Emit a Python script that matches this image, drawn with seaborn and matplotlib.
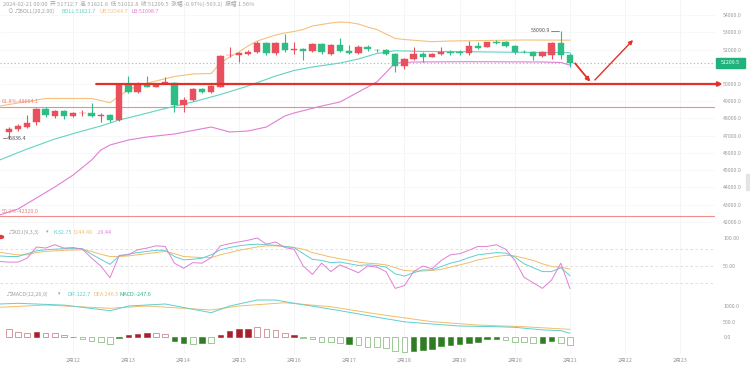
import numpy as np
import pandas as pd
import matplotlib
matplotlib.use("Agg")
import matplotlib.pyplot as plt
import seaborn as sns
from matplotlib.patches import Rectangle, Circle

sns.set_theme(style="white")
plt.rcParams['font.family'] = ['Noto Sans CJK SC', 'DejaVu Sans']

# ---------------- data ----------------
t0 = pd.Timestamp("2024-02-10 20:00")
times = pd.date_range(t0, periods=62, freq="4h")

opens = [47230, 47369, 47520, 47811, 48548, 48142, 48432, 48142, 48316, 48299,
         48142, 48200, 47910, 49942, 49553, 49983, 49843, 50070, 50041, 48781,
         49071, 49710, 49553, 49843, 51672, 51667, 51742, 51841, 52398, 51783,
         52398, 52003, 52015, 51934, 52323, 51742, 52265, 51916, 51783, 52166,
         51986, 51974, 51725, 51063, 51434, 51725, 51585, 51725, 51847, 51841,
         51783, 52207, 52166, 52427, 52422, 52207, 51887, 51876, 51643, 51684,
         52363, 51712.7]
closes = [47369, 47544, 47753, 48548, 48200, 48432, 48159, 48299, 48345, 48142,
          48200, 47910, 49942, 49553, 49983, 49843, 49983, 50087, 48781, 49071,
          49710, 49553, 49855, 51626, 51696, 51783, 51876, 52398, 51783, 52398,
          51974, 52021, 51916, 52323, 51841, 52265, 51934, 51783, 52166, 52015,
          51963, 51760, 51063, 51434, 51725, 51585, 51771, 51841, 51829, 51823,
          52207, 52091, 52422, 52410, 52207, 51841, 51864, 51643, 51876, 52363,
          51713, 51209.5]
highs = [47503, 47677, 48200, 48606, 48664, 48490, 48490, 48374, 48490, 48879,
         48316, 48258, 50000, 50465, 50116, 50436, 50058, 50406, 50116, 49245,
         49768, 49768, 49942, 51684, 52120, 51858, 51974, 52497, 52468, 52468,
         52904, 52456, 52091, 52381, 52381, 52323, 52654, 52265, 52236, 52236,
         52061, 52032, 51800, 51510, 52131, 51876, 51829, 52131, 51974, 52003,
         52514, 52468, 52468, 52555, 52497, 52265, 51974, 51945, 51945, 52439,
         53090.9, 51821.6]
lows = [46836.4, 47271, 47445, 47619, 48084, 48026, 47968, 48084, 48142, 48084,
        47811, 47793, 47851, 49477, 49477, 49797, 49797, 50000, 48391, 48391,
        49013, 49477, 49477, 49826, 51568, 51278, 51684, 51800, 51713, 51713,
        51887, 51742, 51394, 51887, 51771, 51684, 51887, 51742, 51742, 51945,
        51887, 51684, 50714, 50854, 51394, 51260, 51539, 51684, 51713, 51713,
        51713, 52032, 52120, 52294, 52149, 51771, 51800, 51394, 51597, 51434,
        51434, 51012.8]

# Bollinger bands read at selected candle indices
ub_idx = [-1, 4, 9, 10, 11, 12, 13, 14, 15, 16, 18, 20, 22, 23, 24, 25, 26, 27, 28, 29,
          30, 31, 32, 33, 34, 35, 36, 37, 38, 39, 40, 41, 42, 43, 46, 48, 52, 56, 61]
ub_val = [48722, 49158, 49158, 49042, 48914, 49303, 49652, 49884, 50041, 50174, 50436,
          50581, 50610, 51220, 51568, 51858, 52207, 52497, 52670, 52845, 52962, 53049,
          53165, 53368, 53455, 53542, 53600, 53571, 53484, 53310, 53165, 52904, 52642,
          52584, 52456, 52497, 52526, 52555, 52544.7]
mid_idx = [-1, 2, 5, 8, 10, 12, 14, 17, 20, 23, 26, 29, 31, 33, 36, 38, 40, 42, 45, 50, 55, 61]
mid_val = [45587, 46225, 46806, 47271, 47561, 47910, 48171, 48577, 48955, 49390, 49884,
           50465, 50784, 50987, 51219, 51452, 51771, 51934, 51887, 51876, 51841, 51821.7]
lb_idx = [-1, 1, 3, 5, 7, 9, 10, 11, 13, 15, 18, 22, 24, 26, 28, 30, 31, 34, 36, 38, 40,
          42, 44, 50, 58, 60, 61]
lb_val = [42393, 42741, 43380, 44019, 44715, 45587, 46167, 46458, 46748, 46922, 47097,
          47503, 47213, 47271, 47503, 48142, 48316, 48722, 48955, 49535, 50116, 51220,
          51278, 51295, 51278, 51249, 51098.7]

# KDJ at candle indices -1..61
kdj_idx = list(range(-1, 62))
k_val = [68, 67, 67, 72, 77, 79, 80, 81, 81, 81, 71, 62, 53, 68, 71, 74, 76, 78, 78, 67,
         61, 62, 64, 70, 79, 83, 86, 88, 89, 88, 87, 85, 83,
         72, 62, 60, 56, 57, 54, 51, 52, 51, 48, 36, 32, 38, 43, 43, 49, 55, 59, 65, 70,
         72, 74, 73, 66, 54, 47, 40, 40, 47, 32.75]
d_val = [74.5, 72, 70, 70, 74, 76, 77, 78, 78.5, 79, 76, 71, 67, 67, 68, 70, 72, 74, 76, 72,
         67, 66, 65, 65, 70, 74, 78, 81, 84, 86, 86, 85, 83,
         80, 74, 70, 66, 63, 60, 57, 55, 54, 52, 47, 42, 41, 41, 42, 44, 48, 52, 56, 61,
         64, 67, 69, 68, 64, 60, 54, 49, 48, 44.40]
j_val = [58, 57, 57, 64, 84, 82, 88, 82, 83, 80, 64, 50, 29, 69, 70, 79, 82, 86, 85, 55,
         46, 56, 55, 65, 86, 90, 93, 96, 100, 89, 93, 83, 80,
         50, 35, 55, 40, 52, 45, 38, 50, 48, 40, 10, 15, 40, 50, 45, 60, 70, 72, 78, 85,
         85, 88, 80, 60, 30, 20, 10, 25, 55, 9.44]

# MACD
dif_idx = [-1, 1, 6, 11, 13, 17, 22, 24, 27, 29, 31, 36, 40, 43, 46, 49, 53, 55, 58, 60, 61]
dif_val = [1065, 1087, 1030, 848, 1000, 1065, 784, 1000, 1194, 1194, 1090, 850, 640, 490,
           419, 355, 332, 313, 230, 205, 122.7]
dea_idx = [-1, 4, 11, 15, 22, 25, 30, 35, 40, 46, 51, 56, 61]
dea_val = [958, 1032, 926, 1000, 871, 1000, 1106, 977, 742, 494, 387, 332, 246.5]
hist_val = [268, 161, 140, 172, 140, 118, 54, -5, -75, -130,
            -150, -237, -43, 54, 108, 118, 118, 86, -130, -204,
            -215, -204, -204, 54, 194, 247, 269, 333, 247, 226,
            140, 75, -32, -54, -150, -161, -183, -215, -269, -312,
            -312, -344, -452, -484, -452, -419, -376, -290, -269, -237,
            -183, -150, -75, -54, -108, -150, -161, -183, -204, -130,
            -183, -247.6]
hist_fill = "hhhfhhhfhhhhffffhhffhfhffffhhhhfhhhhhfhhhhhhffffffffffhhhhffhh"

day_labels = ["2月12", "2月13", "2月14", "2月15", "2月16", "2月17",
              "2月18", "2月19", "2月20", "2月21", "2月22", "2月23"]
day_dates = pd.date_range("2024-02-12", "2024-02-23", freq="D")

fib_levels = [48664.1, 42320.0]
fib_labels = ["61.8%-48664.1", "50.2%-42320.0"]
support = 50000.0
last_price = 51209.5

# ---------------- style ----------------
UP = "#e9505d"
DN = "#2ebd85"
C_MID = "#62d3c3"
C_UB = "#f3c27d"
C_LB = "#e07fd6"
C_K = "#5fcfcf"
C_D = "#f1bd6a"
C_J = "#e07fd6"
GREY = "#9a9a9a"

W, H = 750, 368
fig = plt.figure(figsize=(W / 100, H / 100), dpi=100)
fig.patch.set_facecolor("white")


def rect(top, bottom, right=715):
    return [0, 1 - bottom / H, right / W, (bottom - top) / H]


def kpos(ts):
    return (pd.Timestamp(ts) - t0) / pd.Timedelta("4h")


ax_p = fig.add_axes(rect(0, 228))
ax_k = fig.add_axes(rect(228, 296))
ax_m = fig.add_axes(rect(296, 354))
XL = (-0.957, 76.76)
ticks_x = [kpos(d) for d in day_dates]

for ax in (ax_p, ax_k, ax_m):
    ax.set_xlim(*XL)
    for s in ax.spines.values():
        s.set_visible(False)
    ax.set_facecolor("white")
    for tx in ticks_x:
        ax.axvline(tx, color="#f4f4f4", lw=0.6, zorder=0)
    ax.yaxis.tick_right()
    ax.tick_params(axis="y", length=0, pad=6, labelsize=3.8, labelcolor=GREY)
    ax.set_xticks([])

# ---------------- price panel ----------------
ax_p.set_ylim(41638, 54878)
yt = list(range(42000, 54001, 1000))
ax_p.set_yticks(yt)
ax_p.set_yticklabels([f"{v:.1f}" for v in yt])
for v in yt:
    ax_p.axhline(v, color="#f6f6f6", lw=0.5, zorder=0)

xs = np.arange(len(opens))
for i in xs:
    o, c, h, l = opens[i], closes[i], highs[i], lows[i]
    col = UP if c >= o else DN
    ax_p.vlines(i, l, h, color=col, lw=0.8, zorder=3)
    ax_p.bar(i, max(abs(c - o), 18), bottom=min(o, c), width=0.7, color=col,
             edgecolor=col, lw=0.3, zorder=4)

sns.lineplot(x=ub_idx, y=ub_val, ax=ax_p, color=C_UB, lw=0.8, legend=False, zorder=2)
sns.lineplot(x=mid_idx, y=mid_val, ax=ax_p, color=C_MID, lw=0.8, legend=False, zorder=2)
sns.lineplot(x=lb_idx, y=lb_val, ax=ax_p, color=C_LB, lw=0.8, legend=False, zorder=2)

for lv in fib_levels:
    ax_p.axhline(lv, color="#f08c8c", lw=0.8, zorder=1)
ax_p.text(2 / 9.2 - 0.957, fib_levels[0] + 150, fib_labels[0], color="#ef7d7d",
          fontsize=3.9, va="bottom", ha="left")
ax_p.text(2 / 9.2 - 0.957, fib_levels[1] + 150, fib_labels[1], color="#ef7d7d",
          fontsize=3.9, va="bottom", ha="left")

# current price dotted line
ax_p.axhline(last_price, color="#6fd0b8", lw=0.8, ls=(0, (1, 2.2)), zorder=2)

# support line with arrow
ax_p.annotate("", xy=(77.6, support), xytext=(9.5, support),
              arrowprops=dict(arrowstyle="-|>", color="#e3302b", lw=1.6,
                              mutation_scale=6, shrinkA=0, shrinkB=0),
              annotation_clip=False, zorder=5)
# forecast arrows
ax_p.annotate("", xy=(63.2, 50134), xytext=(61.55, 51202),
              arrowprops=dict(arrowstyle="-|>", color="#e3302b", lw=1.3,
                              mutation_scale=6, shrinkA=0, shrinkB=0), zorder=6)
ax_p.annotate("", xy=(67.85, 52555), xytext=(63.7, 50232),
              arrowprops=dict(arrowstyle="-|>", color="#e3302b", lw=1.0,
                              mutation_scale=6, shrinkA=0, shrinkB=0), zorder=6)

# high / low markers
ax_p.plot([58.9, 59.8], [highs[60], highs[60]], color="#555", lw=0.5)
ax_p.text(58.8, highs[60], f"{highs[60]:.1f}", fontsize=3.9, color="#555",
          ha="right", va="center")
ax_p.plot([-0.6, -0.35], [lows[0], lows[0]], color="#555", lw=0.5)
ax_p.text(-0.25, lows[0], f"{lows[0]:.1f}", fontsize=3.9, color="#555",
          ha="left", va="center")

# ---------------- KDJ panel ----------------
ax_k.set_ylim(-3.6, 117.9)
ax_k.set_yticks([100, 50])
ax_k.set_yticklabels(["100.00", "50.00"])
for lv in (80, 50, 20):
    ax_k.axhline(lv, color="#d9d9d9", lw=0.6, ls=(0, (3, 3)), zorder=1)
sns.lineplot(x=kdj_idx, y=d_val, ax=ax_k, color=C_D, lw=0.7, legend=False, zorder=2)
sns.lineplot(x=kdj_idx, y=k_val, ax=ax_k, color=C_K, lw=0.7, legend=False, zorder=3)
sns.lineplot(x=kdj_idx, y=j_val, ax=ax_k, color=C_J, lw=0.7, legend=False, zorder=4)

# ---------------- MACD panel ----------------
ax_m.set_ylim(-548, 1323)
ax_m.set_yticks([1000, 500, 0])
ax_m.set_yticklabels(["1000.0", "500.0", "0.0"])
sns.lineplot(x=dea_idx, y=dea_val, ax=ax_m, color=C_D, lw=0.7, legend=False, zorder=2)
sns.lineplot(x=dif_idx, y=dif_val, ax=ax_m, color=C_K, lw=0.7, legend=False, zorder=3)
for i, v in enumerate(hist_val):
    pos = v >= 0
    dark = "#a8202c" if pos else "#2f7d22"
    light = "#c98a90" if pos else "#8fbf86"
    if hist_fill[i] == "f":
        ax_m.bar(i, v, width=0.62, color=dark, edgecolor=dark, lw=0.4, zorder=4)
    else:
        ax_m.bar(i, v, width=0.62, facecolor="white", edgecolor=light, lw=0.6, zorder=4)
ax_m.set_xticks(ticks_x)
ax_m.set_xticklabels(day_labels)
ax_m.tick_params(axis="x", length=0, pad=2.5, labelsize=4.0, labelcolor=GREY)


# ---------------- header texts ----------------
def ftxt(x, y, s, color=GREY, size=3.9, **kw):
    fig.text(x / W, 1 - y / H, s, color=color, fontsize=size, va="center", ha="left", **kw)


ftxt(3, 4, "2024-02-21 00:00  开 51712.7  高 51821.6  低 51012.8  收 51209.5  "
           "涨幅 -0.97%(-503.2)  振幅 1.56%", color="#a5a5a5", size=4.15)
ftxt(7, 11.5, "⊙", color="#b0b0b0", size=4.2)
ftxt(15, 11.5, "♫BOLL(20,2.00)", color="#a0a0a0")
ftxt(62, 11.5, "BOLL:51821.7", color=C_MID)
ftxt(100, 11.5, "UB:52544.7", color=C_UB)
ftxt(131, 11.5, "LB:51098.7", color=C_LB)

ftxt(9, 232, "♫KDJ(9,3,3)", color="#a0a0a0")
ftxt(46, 232, "▾", color="#a0a0a0", size=3.5)
ftxt(53, 232, "K:32.75", color=C_K)
ftxt(74, 232, "D:44.40", color=C_D)
ftxt(97, 232, "J:9.44", color=C_J)

ftxt(7, 294, "♫MACD(12,26,9)", color="#a0a0a0")
ftxt(58, 294, "▾", color="#a0a0a0", size=3.5)
ftxt(67, 294, "DIF:122.7", color=C_K)
ftxt(93, 294, "DEA:246.5", color=C_D)
ftxt(120, 294, "MACD:-247.6", color="#2bb38a")

# red dot at left edge of KDJ
fig.patches.append(Circle((0.5 / W, 1 - 237 / H), 3 / W, transform=fig.transFigure,
                          color="#e33b3b", zorder=10))

# price tag
fig.patches.append(Rectangle((716 / W, 1 - 67.5 / H), 29 / W, 9 / H,
                             transform=fig.transFigure, color="#20b27c", zorder=10))
fig.text(730.5 / W, 1 - 63 / H, "51209.5", color="white", fontsize=3.8,
         ha="center", va="center", zorder=11)
# scroll handle
fig.patches.append(Rectangle((746 / W, 1 - 190 / H), 4 / W, 16 / H,
                             transform=fig.transFigure, color="#e4e4e4", zorder=10))

fig.savefig("out.png", dpi=100, facecolor="white")
